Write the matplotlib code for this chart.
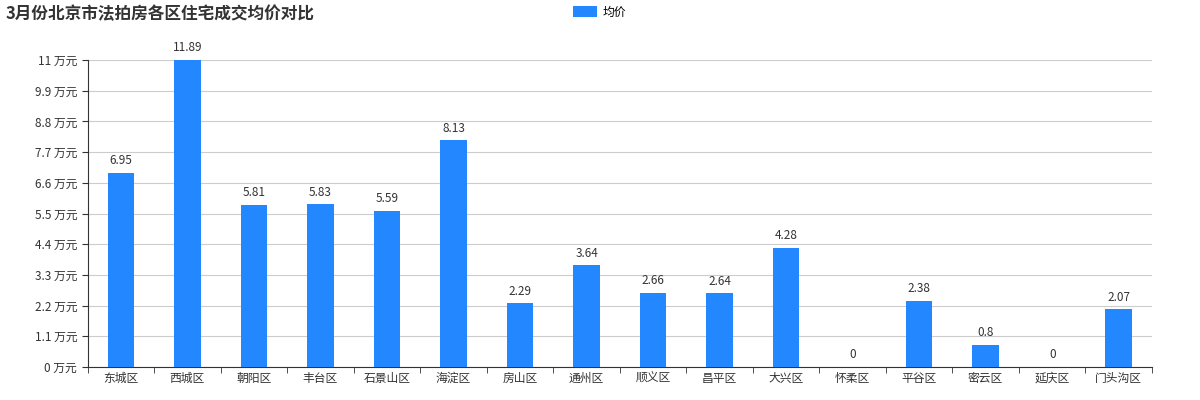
import matplotlib.pyplot as plt
import numpy as np

plt.rcParams['font.family'] = ['Noto Sans CJK SC', 'DejaVu Sans']

districts = ["东城区", "西城区", "朝阳区", "丰台区", "石景山区", "海淀区", "房山区", "通州区",
             "顺义区", "昌平区", "大兴区", "怀柔区", "平谷区", "密云区", "延庆区", "门头沟区"]
prices = [6.95, 11.89, 5.81, 5.83, 5.59, 8.13, 2.29, 3.64, 2.66, 2.64, 4.28, 0, 2.38, 0.8, 0, 2.07]
yticks = [0, 1.1, 2.2, 3.3, 4.4, 5.5, 6.6, 7.7, 8.8, 9.9, 11]

fig = plt.figure(figsize=(12, 4), dpi=100)
ax = fig.add_axes([0.073, 0.0825, 0.887, 0.7675])

x = np.arange(len(districts))
ax.bar(x, prices, width=0.4, color="#2388ff", zorder=3, label="均价")
for xi, v in zip(x, prices):
    lab = f"{v:g}"
    ax.text(xi, min(v, 11) + 0.2, lab, ha="center", va="bottom", fontsize=8.5, color="#333333",
            clip_on=False)

ax.set_xlim(-0.5, len(districts) - 0.5)
ax.set_ylim(0, 11)
ax.set_yticks(yticks)
ax.set_yticklabels([f"{t:g} 万元" for t in yticks], fontsize=8.5, color="#333333")
ax.set_xticks(x)
ax.set_xticklabels(districts, fontsize=8.5, color="#333333")
ax.set_xticks(np.arange(-0.5, len(districts)), minor=True)
ax.tick_params(axis="x", which="major", length=0)
ax.tick_params(axis="x", which="minor", length=4, color="#333333")
ax.tick_params(axis="y", length=4, color="#333333")
ax.grid(axis="y", color="#cccccc", linewidth=0.8, zorder=0)
for s in ["top", "right"]:
    ax.spines[s].set_visible(False)
ax.spines["left"].set_color("#333333")
ax.spines["bottom"].set_color("#333333")

fig.text(0.005, 0.965, "3月份北京市法拍房各区住宅成交均价对比", fontsize=12, fontweight="bold",
         color="#333333", va="center")
leg = fig.legend(loc="center", bbox_to_anchor=(0.5, 0.97), frameon=False, fontsize=8.5,
                 handlelength=2.0, handleheight=1.0, handletextpad=0.5)

fig.savefig("out.png")
